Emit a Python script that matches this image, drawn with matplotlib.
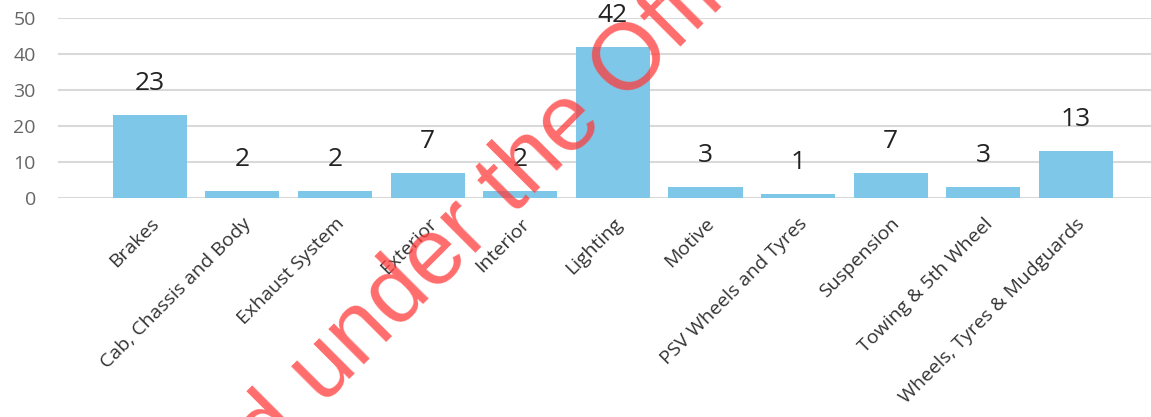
import matplotlib.pyplot as plt

categories = [
    "Brakes",
    "Cab, Chassis and Body",
    "Exhaust System",
    "Exterior",
    "Interior",
    "Lighting",
    "Motive",
    "PSV Wheels and Tyres",
    "Suspension",
    "Towing & 5th Wheel",
    "Wheels, Tyres & Mudguards",
]
counts = [23, 2, 2, 7, 2, 42, 3, 1, 7, 3, 13]
y_ticks = [0, 10, 20, 30, 40, 50]

W, H = 1151, 417
plt.rcParams["font.family"] = ["Open Sans", "DejaVu Sans"]

fig = plt.figure(figsize=(W / 100, H / 100), dpi=100)
ax = fig.add_axes([58 / W, 1 - 198 / H, 1 - 58 / W, (198 - 18) / H])

x = range(len(categories))
ax.bar(x, counts, width=0.8, color="#7fc7e8", zorder=2)

for xi, v in zip(x, counts):
    ax.annotate(str(v), (xi, v), xytext=(0, 18), textcoords="offset points",
                ha="center", va="baseline", fontsize=19, color="#222222",
                annotation_clip=False)

ax.set_xlim(-0.99, 10.81)
ax.set_ylim(0, 50)
ax.set_yticks(y_ticks)
ax.yaxis.grid(True, color="#d9d9d9", linewidth=1.5, zorder=0)
ax.set_axisbelow(True)
for s in ax.spines.values():
    s.set_visible(False)
ax.tick_params(axis="both", length=0)
ax.tick_params(axis="y", labelsize=14, labelcolor="#666666", pad=16)

ax.set_xticks(list(x))
ax.set_xticklabels(categories, rotation=45, ha="right", rotation_mode="anchor",
                   fontsize=14, color="#333333")
ax.tick_params(axis="x", pad=12)

# watermark
wm_x, wm_y = 304 / W, 1 - 424 / H
fig.text(wm_x, wm_y, "Released", rotation=45, rotation_mode="anchor",
         ha="right", va="baseline", fontsize=68, color="#ff3b3b", alpha=0.75,
         family="Liberation Sans")
fig.text(wm_x, wm_y, " under the Official Information Act 1982", rotation=45,
         rotation_mode="anchor", ha="left", va="baseline", fontsize=68,
         color="#ff3b3b", alpha=0.75, family="Liberation Sans")

fig.savefig("out.png", dpi=100)
